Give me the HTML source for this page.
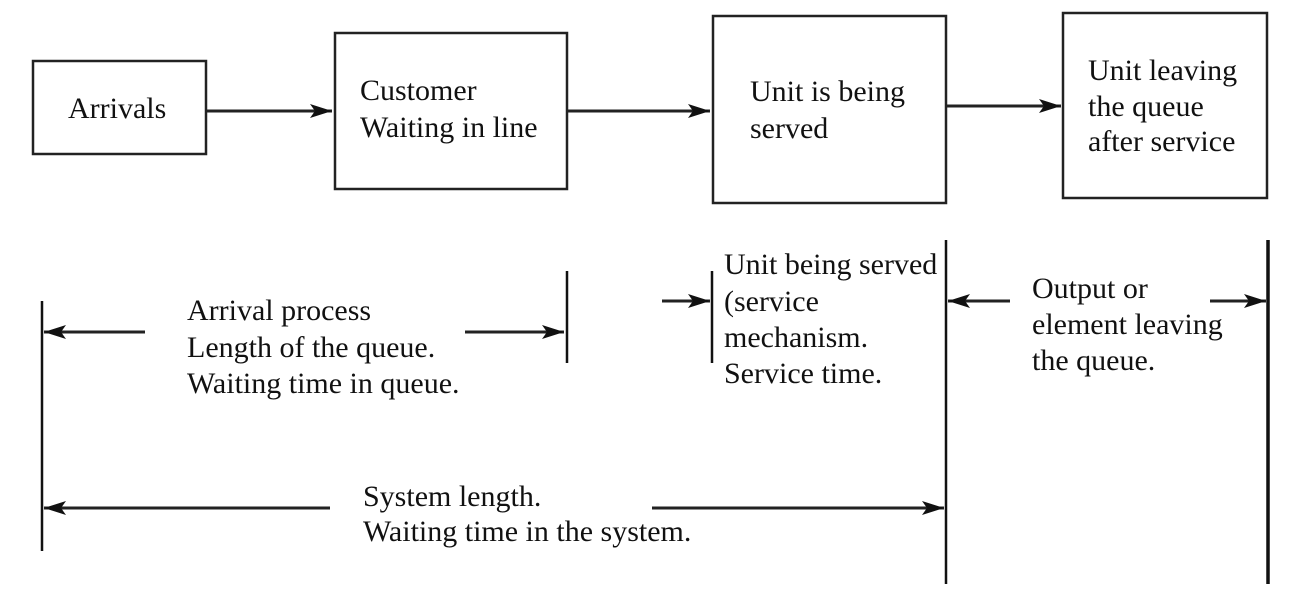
<!DOCTYPE html>
<html><head><meta charset="utf-8"><style>
html,body{margin:0;padding:0;background:#fff;}
svg{display:block;}
text{font-family:"Liberation Serif",serif;font-size:30px;fill:#111;letter-spacing:0px;}
</style></head><body>
<svg width="1292" height="609" viewBox="0 0 1292 609" xmlns="http://www.w3.org/2000/svg">
<defs>
<marker id="b" markerWidth="22" markerHeight="14" refX="22" refY="7" orient="auto" markerUnits="userSpaceOnUse" viewBox="0 0 22 14">
<path d="M0,0 L22,7 L0,14 L5,7 z" fill="#111"/></marker>
</defs>
<g fill="none" stroke="#222" stroke-width="2.5">
<rect x="33" y="61" width="173" height="93"/>
<rect x="335" y="33" width="232" height="156"/>
<rect x="713" y="16" width="233" height="187"/>
<rect x="1063" y="13" width="204" height="185"/>
</g>
<g stroke="#222" stroke-width="3" marker-end="url(#b)">
<line x1="207" y1="111" x2="332" y2="111"/>
<line x1="568" y1="111" x2="710" y2="111"/>
<line x1="946" y1="106" x2="1061" y2="106"/>
<line x1="145" y1="332" x2="44" y2="332"/>
<line x1="465" y1="332" x2="564" y2="332"/>
<line x1="662" y1="301" x2="710" y2="301"/>
<line x1="1010" y1="301" x2="948" y2="301"/>
<line x1="1210" y1="301" x2="1266" y2="301"/>
<line x1="330" y1="508" x2="44" y2="508"/>
<line x1="652" y1="508" x2="944" y2="508"/>
</g>
<g stroke="#111" stroke-width="2.5">
<line x1="42" y1="301" x2="42" y2="551"/>
<line x1="567" y1="271" x2="567" y2="363"/>
<line x1="712" y1="271" x2="712" y2="363"/>
<line x1="946" y1="240" x2="946" y2="584"/>
<line x1="1268" y1="240" x2="1268" y2="584" stroke-width="3.5"/>
</g>
<text x="68" y="118">Arrivals</text>
<text x="360" y="100">Customer</text>
<text x="360" y="137">Waiting in line</text>
<text x="750" y="101">Unit is being</text>
<text x="750" y="138">served</text>
<text x="1088" y="80">Unit leaving</text>
<text x="1088" y="116">the queue</text>
<text x="1088" y="151">after service</text>
<text x="187" y="320">Arrival process</text>
<text x="187" y="357">Length of the queue.</text>
<text x="187" y="393">Waiting time in queue.</text>
<text x="724" y="274">Unit being served</text>
<text x="724" y="311">(service</text>
<text x="724" y="347">mechanism.</text>
<text x="724" y="383">Service time.</text>
<text x="1032" y="298">Output or</text>
<text x="1032" y="334">element leaving</text>
<text x="1032" y="370">the queue.</text>
<text x="363" y="506">System length.</text>
<text x="363" y="541">Waiting time in the system.</text>
</svg>
</body></html>
